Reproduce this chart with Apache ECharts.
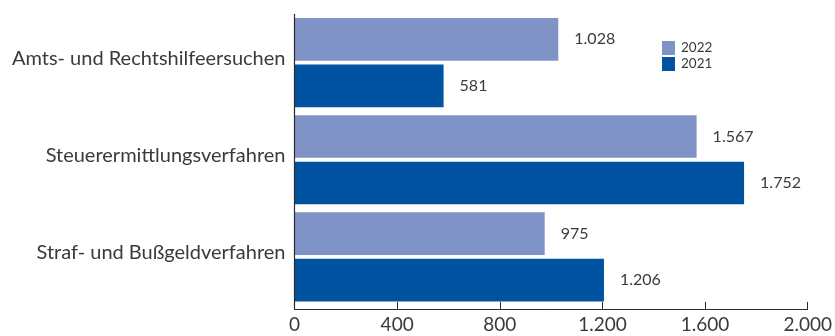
<!DOCTYPE html>
<html>
<head>
<meta charset="utf-8">
<script src="https://cdn.jsdelivr.net/npm/echarts@6/dist/echarts.min.js"></script>
<style>
  html, body { margin: 0; padding: 0; background: #fff; }
  #chart { width: 835px; height: 336px; }
</style>
</head>
<body>
<div id="chart"></div>
<script>
// Verfahren nach Art, Vergleich 2022 / 2021
const categories = ['Amts- und Rechtshilfeersuchen', 'Steuerermittlungsverfahren', 'Straf- und Bußgeldverfahren'];
const values2022 = [1028, 1567, 975];
const values2021 = [581, 1752, 1206];
const seriesNames = ['2022', '2021'];
const axisTicks = [0, 400, 800, 1200, 1600, 2000];

const FONT = 'Lato, "Open Sans", sans-serif';
const TEXT = '#3a3a3a';
const COLOR_2022 = '#8093c6';
const COLOR_2021 = '#0053a0';

// Tausendertrennzeichen mit Punkt
function fmt(v) {
  return String(v).replace(/\B(?=(\d{3})+(?!\d))/g, '.');
}

const GRID_TOP = 14;
const GRID_BOTTOM = 30.5;
const AXIS_OFFSET = 3.5;

const chart = echarts.init(document.getElementById('chart'), null, { renderer: 'canvas' });

const labelCfg = {
  show: true,
  position: 'right',
  distance: 16,
  fontFamily: FONT,
  fontSize: 16,
  color: TEXT,
  formatter: p => fmt(p.value)
};

chart.setOption({
  animation: false,
  textStyle: { fontFamily: FONT },
  grid: { left: 294.5, right: 25.5, top: GRID_TOP, bottom: GRID_BOTTOM, containLabel: false },
  legend: {
    orient: 'vertical',
    left: 657,
    top: 36,
    itemWidth: 13,
    itemHeight: 14,
    itemGap: 2,
    icon: 'rect',
    textStyle: { fontFamily: FONT, fontSize: 13.5, color: TEXT, padding: [0, 0, 0, 1] },
    data: seriesNames
  },
  xAxis: {
    type: 'value',
    min: axisTicks[0],
    max: axisTicks[axisTicks.length - 1],
    interval: axisTicks[1] - axisTicks[0],
    offset: AXIS_OFFSET,
    splitLine: { show: false },
    axisLine: { show: true, lineStyle: { color: '#2b2b2b', width: 1 } },
    axisTick: { show: true, inside: true, length: 7, lineStyle: { color: '#2b2b2b' } },
    axisLabel: {
      margin: 6,
      fontFamily: FONT,
      fontSize: 19,
      color: TEXT,
      formatter: v => fmt(v)
    }
  },
  yAxis: {
    type: 'category',
    inverse: true,
    data: categories,
    axisLine: { show: false },
    axisTick: { show: false },
    axisLabel: {
      margin: 9,
      formatter: v => '{c|' + v + '}',
      rich: {
        c: { fontFamily: FONT, fontSize: 20, color: TEXT, padding: [0, 0, 8, 0] }
      }
    }
  },
  series: [
    {
      name: seriesNames[0],
      type: 'bar',
      data: values2022,
      barWidth: 42.7,
      barGap: '9%',
      itemStyle: { color: COLOR_2022 },
      label: labelCfg
    },
    {
      name: seriesNames[1],
      type: 'bar',
      data: values2021,
      barWidth: 42.7,
      barGap: '9%',
      itemStyle: { color: COLOR_2021 },
      label: labelCfg
    }
  ]
});

// vertikale Achsenlinie bei 0, bis zur versetzten x-Achse durchgezogen
const x0 = Math.round(chart.convertToPixel({ xAxisIndex: 0 }, 0)) - 0.5;
const h = chart.getHeight();
chart.setOption({
  graphic: [{
    type: 'line',
    shape: { x1: x0, y1: GRID_TOP, x2: x0, y2: h - GRID_BOTTOM + AXIS_OFFSET },
    style: { stroke: '#2b2b2b', lineWidth: 1.2 },
    z: 10
  }]
});
</script>
</body>
</html>
